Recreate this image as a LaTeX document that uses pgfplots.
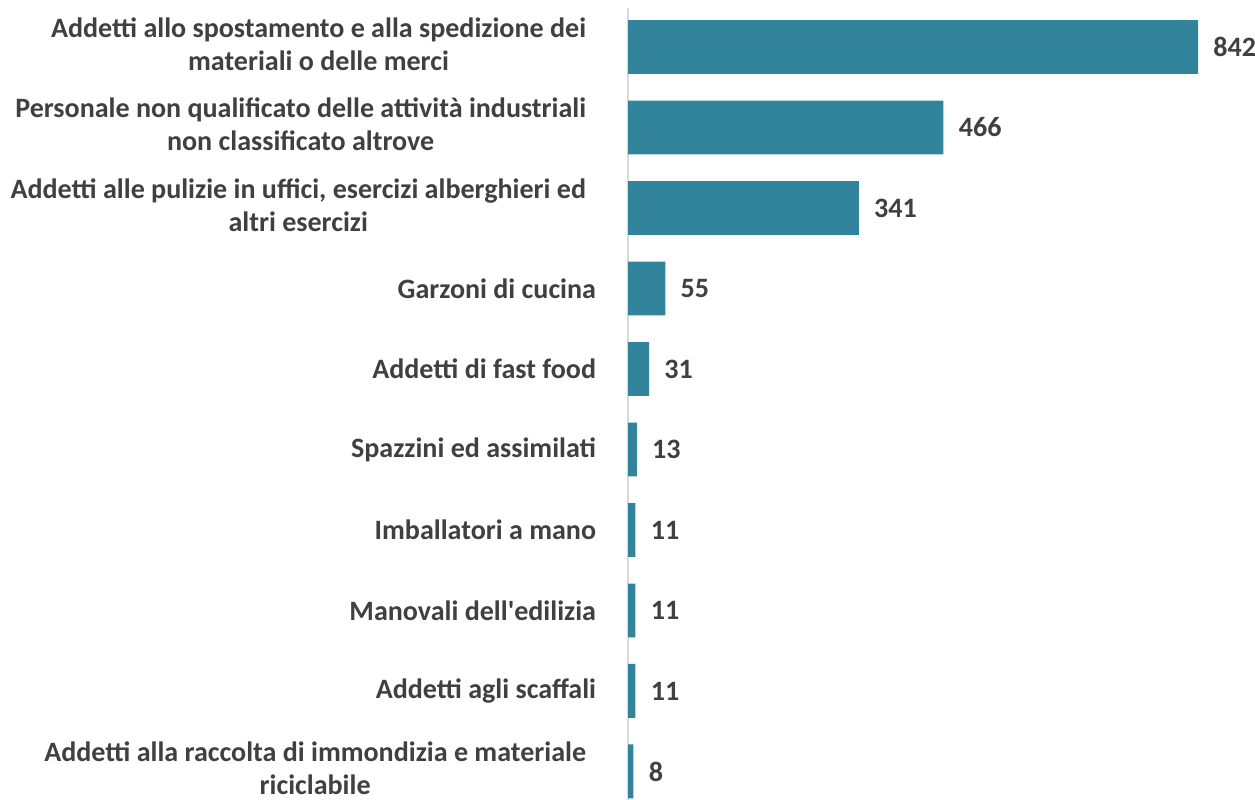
\documentclass[border=0pt]{standalone}
\usepackage{pgfplots}
\pgfplotsset{compat=1.18}
\usepackage{fontspec}
\setmainfont{Carlito}
\usetikzlibrary{calc}

\definecolor{barcol}{RGB}{49,132,155}
\definecolor{txtcol}{RGB}{64,64,64}
\definecolor{axcol}{RGB}{217,217,217}

% two-line category label, set a little left of the one-line ones
\newcommand{\ml}[2]{\begin{tabular}{@{}c@{\hspace{3.6pt}}}#1\\#2\end{tabular}}

\begin{document}
\begin{tikzpicture}
\begin{axis}[
    xbar,
    scale only axis,
    width=225.7pt,
    height=285.1pt,
    xmin=0, xmax=926.2,
    ymin=-0.485, ymax=9.354,
    y dir=reverse,
    bar width=0.67,
    axis x line=none,
    axis y line*=left,
    y axis line style={draw=axcol, line width=0.6pt},
    ytick={0,...,9},
    major tick length=0pt,
    yticklabels={
        {\ml{Addetti allo spostamento e alla spedizione dei}{materiali o delle merci}},
        {\ml{Personale non qualificato delle attività industriali}{non classificato altrove}},
        {\ml{Addetti alle pulizie in uffici, esercizi alberghieri ed}{altri esercizi}},
        {Garzoni di cucina},
        {Addetti di fast food},
        {Spazzini ed assimilati},
        {Imballatori a mano},
        {Manovali dell\textquotesingle edilizia},
        {Addetti agli scaffali},
        {\ml{Addetti alla raccolta di immondizia e materiale}{riciclabile}}
    },
    yticklabel style={anchor=east, xshift=-8pt,
        font=\fontsize{10.1}{11.9}\selectfont\bfseries, text=txtcol},
    /pgf/number format/assume math mode=true,
    nodes near coords,
    nodes near coords style={anchor=west, xshift=2pt,
        font=\fontsize{10.1}{11.9}\selectfont\bfseries, text=txtcol},
]
\addplot[fill=barcol, draw=none] coordinates {
    (842,0) (466,1) (341,2) (55,3) (31,4) (13,5) (11,6) (11,7) (11,8) (8,9)
};
\end{axis}
\pgfresetboundingbox
\path ($(current axis.south west)+(-226.1pt,0)$) rectangle ($(current axis.north east)+(0,2.88pt)$);
\end{tikzpicture}
\end{document}
